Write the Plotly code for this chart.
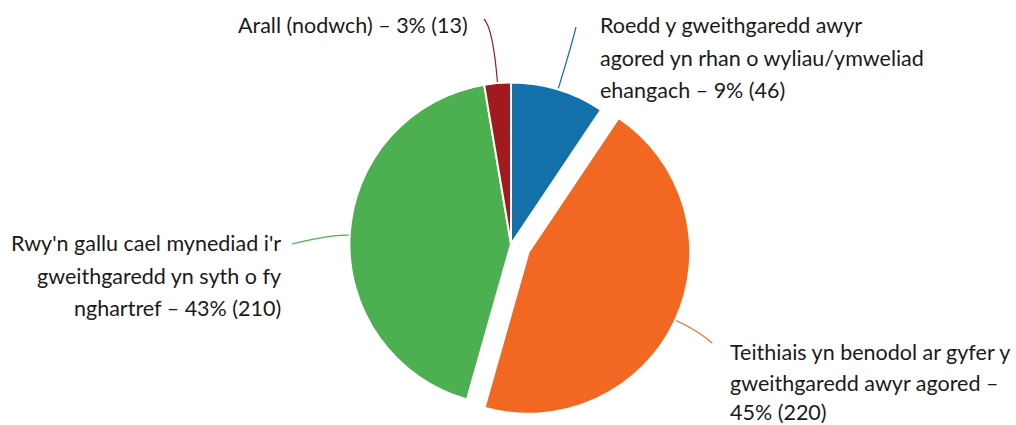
import math
import plotly.graph_objects as go

# ---- data ----
categories = [
    "Roedd y gweithgaredd awyr agored yn rhan o wyliau/ymweliad ehangach",
    "Teithiais yn benodol ar gyfer y gweithgaredd awyr agored",
    "Rwy'n gallu cael mynediad i'r gweithgaredd yn syth o fy nghartref",
    "Arall (nodwch)",
]
counts = [46, 220, 210, 13]
label_templates = [
    ["Roedd y gweithgaredd awyr", "agored yn rhan o wyliau/ymweliad", "ehangach – {p}% ({n})"],
    ["Teithiais yn benodol ar gyfer y", "gweithgaredd awyr agored –", "{p}% ({n})"],
    ["Rwy'n gallu cael mynediad i'r", "gweithgaredd yn syth o fy", "nghartref – {p}% ({n})"],
    ["Arall (nodwch) – {p}% ({n})"],
]

# ---- style / layout ----
colors = ["#1470a8", "#f26722", "#4caf50", "#a11a1d"]
pulls = [0, 0.12, 0, 0]
W, H = 1016, 425
CX, CY = 511, 244
FONT = "Lato"
FS = 21.5
# label text placement (pixels): anchor x, alignment, line centre y's
label_pos = [
    (598, "left", [25, 58, 90]),
    (728, "left", [352, 383, 412]),
    (283, "right", [243, 276, 308]),
    (470, "right", [25]),
]
# connector end points (pixels)
conn_end = [(576, 27), (712, 343), (292, 244), (484, 19)]
conn_bend = [0.8, 0.6, 0.3, 0.85]

total = sum(counts)
pcts = [round(100 * c / total) for c in counts]

maxpull = max(pulls)
half_h = H - CY
R = (2 * half_h) / (2 + 2 * maxpull)
dom_y = [0, 2 * half_h / H]
dom_x = [(CX - half_h - 20) / W, (CX + half_h + 20) / W]

fig = go.Figure(go.Pie(
    labels=categories, values=counts, sort=False, direction="clockwise",
    rotation=0, pull=pulls, textinfo="none", hoverinfo="label+value+percent",
    marker=dict(colors=colors, line=dict(color="white", width=2)),
    domain=dict(x=dom_x, y=dom_y), showlegend=False,
))

def px(x):
    return x / W

def py(y):
    return 1 - y / H

annotations = []
shapes = []
cum = 0
for i, c in enumerate(counts):
    mid = (cum + c / 2) / total * 2 * math.pi
    cum += c
    dx, dy = math.sin(mid), -math.cos(mid)
    off = pulls[i] * R
    sx = CX + (R + off + 1) * dx
    sy = CY + (R + off + 1) * dy
    ex, ey = conn_end[i]
    t = max(((ex - sx) * dx + (ey - sy) * dy) * conn_bend[i], 0)
    qx, qy = sx + dx * t, sy + dy * t
    path = f"M {px(sx)} {py(sy)} Q {px(qx)} {py(qy)} {px(ex)} {py(ey)}"
    shapes.append(dict(type="path", path=path, xref="paper", yref="paper",
                       line=dict(color=colors[i], width=1.2)))
    lx, align, ys = label_pos[i]
    for line, yy in zip(label_templates[i], ys):
        annotations.append(dict(
            text=line.format(p=pcts[i], n=c), x=px(lx), y=py(yy),
            xref="paper", yref="paper", xanchor=align, yanchor="middle",
            showarrow=False, font=dict(family=FONT, size=FS, color="#1a1a1a"),
        ))

fig.update_layout(
    width=W, height=H, margin=dict(l=0, r=0, t=0, b=0),
    paper_bgcolor="white", plot_bgcolor="white",
    annotations=annotations, shapes=shapes,
)
fig.write_html(
    "out.html",
    config={"displayModeBar": False},
    post_script="document.body.style.margin='0';document.body.style.overflow='hidden';",
)
